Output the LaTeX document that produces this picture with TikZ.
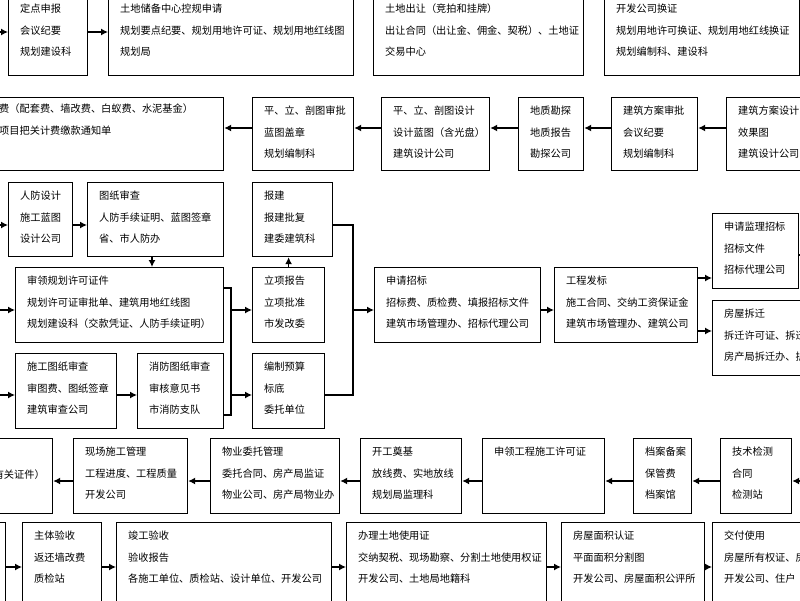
\documentclass[tikz,border=0pt]{standalone}
\usepackage{fontspec}
\setmainfont{Noto Sans CJK SC}
\usetikzlibrary{arrows.meta}
\begin{document}
\begin{tikzpicture}[x=1pt,y=-1pt,
  arr/.style={-{Latex[length=7pt,width=7pt]},line width=1.3pt},
  ln/.style={line width=1.3pt},
  lbl/.style={anchor=north west,align=left,inner sep=0,font=\fontsize{10.2}{21.5}\selectfont}]
\newcommand\bx[6]{\node[draw,line width=1.2pt,inner sep=0,anchor=north west,minimum width=#4-#2,minimum height=#5-#3] (#1) at (#2,#3) {};
  \node[lbl] (#1t) at (#2+12,#3+9) {#6};}
\useasboundingbox (0,0) rectangle (800,600);
\clip (0,0) rectangle (800,600);
\fill[white] (0,0) rectangle (800,600);
% row 1
\bx{a1}{8}{-5}{87}{75}{定点申报\\会议纪要\\规划建设科}
\bx{a2}{108}{-5}{353}{75}{土地储备中心控规申请\\规划要点纪要、规划用地许可证、规划用地红线图\\规划局}
\bx{a3}{373}{-5}{583}{75}{土地出让（竞拍和挂牌）\\出让合同（出让金、佣金、契税）、土地证\\交易中心}
\bx{a4}{604}{-5}{799}{75}{开发公司换证\\规划用地许可换证、规划用地红线换证\\规划编制科、建设科}
\coordinate (a0) at (0,32);
\draw[arr] (a0) -- (a1.west|-a0);
\draw[arr] (a1.east|-a0) -- (a2.west|-a0);
% row 2
\bx{b1}{-5}{97}{223}{170}{}
\node[lbl] (b1t) at (-1,104) {费（配套费、墙改费、白蚁费、水泥基金）\\项目把关计费缴款通知单};
\bx{b2}{252}{97}{353}{170}{平、立、剖图审批\\蓝图盖章\\规划编制科}
\bx{b3}{381}{97}{489}{170}{平、立、剖图设计\\设计蓝图（含光盘）\\建筑设计公司}
\bx{b4}{518}{97}{583}{170}{地质勘探\\地质报告\\勘探公司}
\bx{b5}{611}{97}{697}{170}{建筑方案审批\\会议纪要\\规划编制科}
\bx{b6}{726}{97}{805}{170}{建筑方案设计\\效果图\\建筑设计公司}
\draw[arr] (b2.west|-0,128) -- (b1.east|-0,128);
\draw[arr] (b3.west|-0,128) -- (b2.east|-0,128);
\draw[arr] (b4.west|-0,128) -- (b3.east|-0,128);
\draw[arr] (b5.west|-0,128) -- (b4.east|-0,128);
\draw[arr] (b6.west|-0,128) -- (b5.east|-0,128);
% row 3
\bx{c1}{8}{182}{72}{256}{人防设计\\施工蓝图\\设计公司}
\bx{c2}{87}{182}{223}{256}{图纸审查\\人防手续证明、蓝图签章\\省、市人防办}
\bx{d1}{15}{267}{223}{342}{审领规划许可证件\\规划许可证审批单、建筑用地红线图\\规划建设科（交款凭证、人防手续证明）}
\bx{e1}{15}{353}{116}{428}{施工图纸审查\\审图费、图纸签章\\建筑审查公司}
\bx{e2}{137}{353}{223}{428}{消防图纸审查\\审核意见书\\市消防支队}
\bx{f1}{252}{182}{332}{256}{报建\\报建批复\\建委建筑科}
\bx{f2}{252}{267}{324}{342}{立项报告\\立项批准\\市发改委}
\bx{f3}{252}{353}{324}{428}{编制预算\\标底\\委托单位}
\bx{g1}{374}{267}{540}{342}{申请招标\\招标费、质检费、填报招标文件\\建筑市场管理办、招标代理公司}
\bx{g2}{554}{267}{697}{342}{工程发标\\施工合同、交纳工资保证金\\建筑市场管理办、建筑公司}
\bx{h1}{712}{213}{798}{288}{申请监理招标\\招标文件\\招标代理公司}
\bx{h2}{712}{300}{805}{375}{房屋拆迁\\拆迁许可证、拆迁协议\\房产局拆迁办、拆迁公司}
\coordinate (c0) at (0,225);
\coordinate (d0) at (0,310);
\coordinate (e0) at (0,395);
\draw[arr] (c0) -- (c1.west|-c0);
\draw[arr] (d0) -- (d1.west|-d0);
\draw[arr] (e0) -- (e1.west|-e0);
\draw[arr] (c1.east|-c0) -- (c2.west|-c0);
\draw[arr] (e1.east|-e0) -- (e2.west|-e0);
\draw[arr] (c2.south-|152,0) -- (d1.north-|152,0);
\coordinate (br) at (231,310);
\draw[ln] (d1.east|-0,288) -| (br) |- (e2.east|-0,415);
\draw[arr] (br) -- (f2.west|-br);
\draw[arr] (br|-e0) -- (f3.west|-e0);
\draw[arr] (f2.north) -- (f1.south-|f2.north);
\coordinate (fr) at (353,310);
\draw[ln] (f1.east|-c0) -| (fr) |- (f3.east|-e0);
\draw[arr] (fr) -- (g1.west|-fr);
\draw[arr] (g1.east|-fr) -- (g2.west|-fr);
\draw[arr] (g2.east|-0,278) -- (h1.west|-0,278);
\draw[arr] (g2.east|-0,331) -- (h2.west|-0,331);
\draw[ln] (h1.east|-0,255) -- (805,255);
% row 4
\bx{i1}{-5}{438}{52}{513}{}
\node[lbl,anchor=north east] (i1t) at (45,470) {（有关证件）};
\bx{i2}{73}{438}{187}{513}{现场施工管理\\工程进度、工程质量\\开发公司}
\bx{i3}{210}{438}{339}{513}{物业委托管理\\委托合同、房产局监证\\物业公司、房产局物业办}
\bx{i4}{360}{438}{461}{513}{开工奠基\\放线费、实地放线\\规划局监理科}
\bx{i5}{482}{438}{604}{513}{申领工程施工许可证}
\bx{i6}{633}{438}{691}{513}{档案备案\\保管费\\档案馆}
\bx{i7}{720}{438}{791}{513}{技术检测\\合同\\检测站}
\coordinate (i0) at (800,481);
\draw[arr] (i0) -- (i7.east|-i0);
\draw[arr] (i7.west|-i0) -- (i6.east|-i0);
\draw[arr] (i6.west|-i0) -- (i5.east|-i0);
\draw[arr] (i5.west|-i0) -- (i4.east|-i0);
\draw[arr] (i4.west|-i0) -- (i3.east|-i0);
\draw[arr] (i3.west|-i0) -- (i2.east|-i0);
\draw[arr] (i2.west|-i0) -- (i1.east|-i0);
% row 5
\bx{j0}{-10}{522}{5}{605}{}
\bx{j1}{22}{522}{101}{605}{主体验收\\返还墙改费\\质检站}
\bx{j2}{116}{522}{331}{605}{竣工验收\\验收报告\\各施工单位、质检站、设计单位、开发公司}
\bx{j3}{346}{522}{546}{605}{办理土地使用证\\交纳契税、现场勘察、分割土地使用权证\\开发公司、土地局地籍科}
\bx{j4}{561}{522}{704}{605}{房屋面积认证\\平面面积分割图\\开发公司、房屋面积公评所}
\bx{j5}{712}{522}{810}{605}{交付使用\\房屋所有权证、房屋使用说明书\\开发公司、住户}
\coordinate (jy) at (0,567);
\draw[arr] (j0.east|-jy) -- (j1.west|-jy);
\draw[arr] (j1.east|-jy) -- (j2.west|-jy);
\draw[arr] (j2.east|-jy) -- (j3.west|-jy);
\draw[arr] (j3.east|-jy) -- (j4.west|-jy);
\draw[arr] (j4.east|-jy) -- (j5.west|-jy);
\end{tikzpicture}
\end{document}
